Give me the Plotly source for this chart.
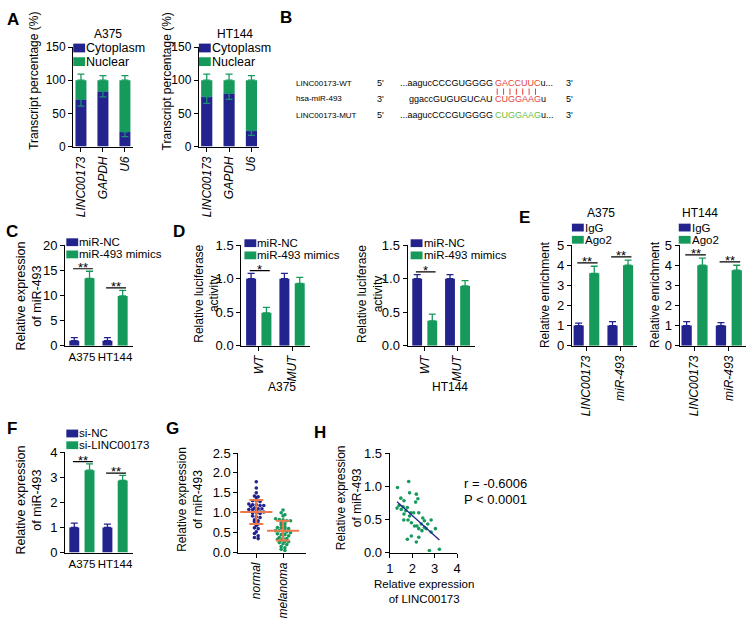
import numpy as np
import plotly.graph_objects as go

W, H = 753, 624
BLUE = "#23238e"
GREEN = "#169a5c"
ORANGE = "#ec7a4f"
RED = "#e5443a"
LGREEN = "#6cbd45"
FONT = "Liberation Sans, Arial, sans-serif"

# ---------------- data ----------------
a_genes = ["LINC00173", "GAPDH", "U6"]
a375_cyto = [71, 83, 22]
a375_cyto_err = [10, 8, 7]
a375_nuc = [29, 17, 78]
a375_nuc_err = [9, 7, 7]
ht144_cyto = [75, 80, 24]
ht144_cyto_err = [10, 9, 7]
ht144_nuc = [25, 20, 76]
ht144_nuc_err = [9, 9, 7]

c_lines = ["A375", "HT144"]
c_nc = [1.0, 1.0]
c_nc_err = [0.6, 0.6]
c_mim = [13.4, 9.9]
c_mim_err = [1.4, 1.1]

d_groups = ["WT", "MUT"]
d_a375_nc = [1.0, 1.0]
d_a375_nc_err = [0.08, 0.08]
d_a375_mim = [0.49, 0.93]
d_a375_mim_err = [0.08, 0.09]
d_ht_nc = [1.0, 1.0]
d_ht_nc_err = [0.06, 0.06]
d_ht_mim = [0.37, 0.89]
d_ht_mim_err = [0.10, 0.08]

e_targets = ["LINC00173", "miR-493"]
e_a375_igg = [1.0, 1.0]
e_a375_igg_err = [0.12, 0.2]
e_a375_ago = [3.6, 4.0]
e_a375_ago_err = [0.35, 0.25]
e_ht_igg = [1.0, 1.0]
e_ht_igg_err = [0.2, 0.15]
e_ht_ago = [4.0, 3.75]
e_ht_ago_err = [0.35, 0.25]

f_lines = ["A375", "HT144"]
f_nc = [1.0, 1.0]
f_nc_err = [0.17, 0.13]
f_si = [3.28, 2.87]
f_si_err = [0.25, 0.2]

g_groups = ["normal", "melanoma"]
g_normal = [1.78, 1.62, 1.50, 1.42, 1.40, 1.38, 1.30, 1.30, 1.28, 1.22, 1.20, 1.20,
            1.18, 1.18, 1.16, 1.12, 1.10, 1.10, 1.08, 1.08, 1.05, 1.02, 1.02, 1.00,
            1.00, 0.98, 0.92, 0.90, 0.88, 0.82, 0.80, 0.78, 0.72, 0.68, 0.62, 0.60,
            0.52, 0.48, 0.42, 0.38, 0.35]
g_melanoma = [1.07, 1.00, 0.95, 0.92, 0.85, 0.83, 0.82, 0.80, 0.80, 0.75, 0.72, 0.70,
              0.65, 0.63, 0.62, 0.60, 0.60, 0.55, 0.55, 0.53, 0.52, 0.50, 0.47, 0.45,
              0.45, 0.42, 0.38, 0.36, 0.35, 0.33, 0.30, 0.28, 0.27, 0.25, 0.22, 0.20,
              0.15, 0.12, 0.08, 0.05]
g_mean = [1.02, 0.55]
g_sd = [0.30, 0.25]

h_linc = [1.34, 1.84, 1.88, 2.18, 1.49, 1.63, 2.25, 2.15, 1.41, 1.59, 1.78, 1.51, 1.71,
          1.93, 1.63, 2.06, 2.29, 1.81, 1.88, 1.62, 2.47, 2.54, 2.84, 2.21, 2.40, 2.29,
          2.54, 2.62, 2.10, 2.69, 3.03, 2.43, 2.84, 1.96, 1.78, 2.29, 2.18, 2.76, 3.21,
          1.32, 1.96]
h_mir = [0.98, 1.07, 0.90, 0.88, 0.82, 0.78, 0.81, 0.76, 0.71, 0.69, 0.68, 0.65, 0.63,
         0.60, 0.58, 0.60, 0.60, 0.49, 0.55, 0.49, 0.52, 0.48, 0.49, 0.40, 0.43, 0.36,
         0.38, 0.36, 0.40, 0.43, 0.36, 0.33, 0.31, 0.25, 0.20, 0.23, 0.16, 0.03, 0.05,
         0.67, 0.45]
h_stats = ["r = -0.6006", "P < 0.0001"]

# ---------------- helpers ----------------
def X(p):
    return p / W

def Y(p):
    return 1 - p / H

traces = []
shapes = []
annotations = []
layout_axes = {}

def ref(n, l):
    return l if n == 1 else f"{l}{n}"

def key(n, l):
    return f"{l}axis" if n == 1 else f"{l}axis{n}"

def add_axes(n, xpx, ypx, xr, yr, dtick, tickvals=None, ticktext=None, tickangle=0,
             xticks="outside", yfmt=None, fs=13, xfs=12, xdtick=None):
    common = dict(showline=True, linecolor="black", linewidth=1.3, showgrid=False,
                  zeroline=False, tickcolor="black", tickwidth=1.3, ticklen=4,
                  fixedrange=True)
    xa = dict(common, domain=[X(xpx[0]), X(xpx[1])], range=xr, anchor=ref(n, "y"),
              ticks=xticks, tickangle=tickangle,
              tickfont=dict(size=xfs, color="black", family=FONT))
    if tickvals is not None:
        xa.update(tickmode="array", tickvals=tickvals, ticktext=ticktext)
    else:
        xa.update(dtick=xdtick, tick0=0)
    ya = dict(common, domain=[Y(ypx[1]), Y(ypx[0])], range=yr, anchor=ref(n, "x"),
              ticks="outside", dtick=dtick, tick0=0,
              tickfont=dict(size=fs, color="black", family=FONT))
    if yfmt:
        ya["tickformat"] = yfmt
    layout_axes[key(n, "x")] = xa
    layout_axes[key(n, "y")] = ya

def bar(n, x, y, err, color, width, offset, base=None, down=False, ecolor=None, cap=3.5):
    e = dict(type="data", symmetric=False, color=ecolor or color, thickness=1.3, width=cap)
    if down:
        e.update(array=[0] * len(err), arrayminus=err)
    else:
        e.update(array=err, arrayminus=[0] * len(err))
    traces.append(go.Bar(x=x, y=y, base=base, width=width, offset=offset,
                         marker=dict(color=color, line=dict(width=0)), error_y=e,
                         xaxis=ref(n, "x"), yaxis=ref(n, "y"), showlegend=False,
                         hoverinfo="skip"))

def text(s, xp, yp, size=12, angle=0, xanchor="center", yanchor="middle", bold=False,
         color="black", align="center"):
    annotations.append(dict(text=f"<b>{s}</b>" if bold else s, x=X(xp), y=Y(yp),
                            xref="paper", yref="paper", showarrow=False,
                            xanchor=xanchor, yanchor=yanchor, textangle=angle,
                            align=align,
                            font=dict(size=size, color=color, family=FONT)))

def legend(x0, y0, items, size=11.5, pitch=12.5, sw=12, sh=8):
    for i, (label, color) in enumerate(items):
        yc = y0 + i * pitch
        shapes.append(dict(type="rect", xref="paper", yref="paper",
                           x0=X(x0), x1=X(x0 + sw), y0=Y(yc + sh / 2), y1=Y(yc - sh / 2),
                           fillcolor=color, line=dict(width=0), layer="above"))
        annotations.append(dict(text=label, x=X(x0 + sw), y=Y(yc), xref="paper",
                                yref="paper", xanchor="left", yanchor="middle",
                                showarrow=False, borderpad=0,
                                font=dict(size=size, color="black", family=FONT)))

def sig(n, xc, top, pad, stars):
    yv = top + pad
    shapes.append(dict(type="line", xref=ref(n, "x"), yref=ref(n, "y"),
                       x0=xc - 0.27, x1=xc + 0.33, y0=yv, y1=yv,
                       line=dict(color="black", width=1.2)))
    annotations.append(dict(text=stars, x=xc + 0.03, y=yv, xref=ref(n, "x"),
                            yref=ref(n, "y"), xanchor="center", yanchor="bottom",
                            yshift=-7, showarrow=False, borderpad=0,
                            font=dict(size=13, color="black", family=FONT)))

def italic(labels):
    return [f"<i>{s}</i>" for s in labels]

W_BAR = 0.3
OFF_L = -0.23 - W_BAR / 2
OFF_R = 0.23 - W_BAR / 2

# ---------------- panel A ----------------
a_idx = list(range(len(a_genes)))
for n, xpx, title, cyto, cerr, nuc, nerr, tx in [
        (1, (70, 130), "A375", a375_cyto, a375_cyto_err, a375_nuc, a375_nuc_err, 105),
        (2, (197, 258), "HT144", ht144_cyto, ht144_cyto_err, ht144_nuc, ht144_nuc_err, 233)]:
    add_axes(n, xpx, (41, 143), [-0.35, 2.35], [0, 150], 50, a_idx, italic(a_genes),
             tickangle=-90, fs=12, xfs=12)
    bar(n, a_idx, nuc, nerr, GREEN, 0.5, -0.25, base=cyto, cap=3.5)
    bar(n, a_idx, cyto, cerr, BLUE, 0.5, -0.25, down=True, ecolor="#1b8f74", cap=3.5)
    text(title, tx, 28, size=12)
    legend(xpx[0], 42, [("Cytoplasm", BLUE), ("Nuclear", GREEN)], size=12.5, pitch=14,
           sw=12, sh=9)
text("Transcript percentage (%)", 30, 76, size=12, angle=-90)
text("Transcript percentage (%)", 165, 76, size=12, angle=-90)

# ---------------- panel B ----------------
rows_y = [78, 94, 111]
row_names = ["LINC00173-WT", "hsa-miR-493", "LINC00173-MUT"]
left_primes = ["5'", "3'", "5'"]
right_primes = ["3'", "5'", "3'"]
seq_prefix = ["...aagucCCCGUGGGG", "ggaccGUGUGUCAU", "...aagucCCCGUGGGG"]
seq_core = ["GACCUUC", "CUGGAAG", "CUGGAAG"]
seq_tail = ["u...", "u", "u..."]
core_colors = [RED, RED, LGREEN]
for i in range(3):
    text(row_names[i], 293, rows_y[i], size=8, xanchor="left")
    text(left_primes[i], 375, rows_y[i], size=9, xanchor="left")
    text(right_primes[i], 566, rows_y[i], size=9, xanchor="left")
    text(seq_prefix[i], 496, rows_y[i], size=9, xanchor="right")
    text(f'<span style="color:{core_colors[i]}">{seq_core[i]}</span>{seq_tail[i]}',
         494, rows_y[i], size=9, xanchor="left")
for k in range(len(seq_core[0])):
    xp = 498.5 + k * 6.45
    shapes.append(dict(type="line", xref="paper", yref="paper", x0=X(xp), x1=X(xp),
                       y0=Y(83.5), y1=Y(90), line=dict(color=RED, width=1)))

# ---------------- panel C ----------------
c_idx = list(range(len(c_lines)))
add_axes(3, (62, 130), (244, 347), [-0.5, 1.53], [0, 20], 5, c_idx, c_lines,
         xticks="", fs=13, xfs=11.5)
bar(3, c_idx, c_nc, c_nc_err, BLUE, W_BAR, OFF_L)
bar(3, c_idx, c_mim, c_mim_err, GREEN, W_BAR, OFF_R)
for i in c_idx:
    sig(3, i, max(c_nc[i] + c_nc_err[i], c_mim[i] + c_mim_err[i]), 0.5, "**")
legend(63, 241, [("miR-NC", BLUE), ("miR-493 mimics", GREEN)])
text("Relative expression<br>of miR-493", 25, 296, size=12.5, angle=-90)

# ---------------- panel D ----------------
d_idx = list(range(len(d_groups)))
for n, xpx, nc, ncerr, mim, mimerr, ttl, tx, ytx in [
        (4, (240, 309), d_a375_nc, d_a375_nc_err, d_a375_mim, d_a375_mim_err, "A375", 281, 205),
        (5, (408, 476), d_ht_nc, d_ht_nc_err, d_ht_mim, d_ht_mim_err, "HT144", 451, 370)]:
    add_axes(n, xpx, (244, 347), [-0.52, 1.53], [0, 1.5], 0.5, d_idx, italic(d_groups),
             tickangle=-90, yfmt=".1f", fs=13, xfs=12)
    bar(n, d_idx, nc, ncerr, BLUE, W_BAR, OFF_L)
    bar(n, d_idx, mim, mimerr, GREEN, W_BAR, OFF_R)
    sig(n, 0, nc[0] + ncerr[0], 0.04, "*")
    legend(xpx[0] + 3, 242, [("miR-NC", BLUE), ("miR-493 mimics", GREEN)])
    text(ttl, tx, 389, size=12)
    text("Relative luciferase<br>activity", ytx, 294, size=12, angle=-90)

# ---------------- panel E ----------------
e_idx = list(range(len(e_targets)))
for n, xpx, igg, iggerr, ago, agoerr, ttl, tx, ytx, lx in [
        (6, (574, 640), e_a375_igg, e_a375_igg_err, e_a375_ago, e_a375_ago_err, "A375", 603, 547, 574),
        (7, (683, 750), e_ht_igg, e_ht_igg_err, e_ht_ago, e_ht_ago_err, "HT144", 703, 658, 682)]:
    add_axes(n, xpx, (244, 347), [-0.43, 1.5], [0, 5], 1, e_idx, italic(e_targets),
             tickangle=-90, fs=13, xfs=12)
    bar(n, e_idx, igg, iggerr, BLUE, W_BAR, OFF_L)
    bar(n, e_idx, ago, agoerr, GREEN, W_BAR, OFF_R)
    for i in e_idx:
        sig(n, i, ago[i] + agoerr[i], 0.17, "**")
    legend(lx, 226, [("IgG", BLUE), ("Ago2", GREEN)])
    text(ttl, tx, 211, size=12)
    text("Relative enrichment", ytx, 295, size=12, angle=-90)

# ---------------- panel F ----------------
f_idx = list(range(len(f_lines)))
add_axes(8, (62, 130), (456, 559), [-0.5, 1.53], [0, 4], 1, f_idx, f_lines,
         xticks="", fs=13, xfs=11.5)
bar(8, f_idx, f_nc, f_nc_err, BLUE, W_BAR, OFF_L)
bar(8, f_idx, f_si, f_si_err, GREEN, W_BAR, OFF_R)
for i in f_idx:
    sig(8, i, f_si[i] + f_si_err[i], 0.09, "**")
legend(63, 437, [("si-NC", BLUE), ("si-LINC00173", GREEN)], pitch=12)
text("Relative expression<br>of miR-493", 25, 505, size=12.5, angle=-90)

# ---------------- panel G ----------------
def swarm(vals, step, dx):
    vals = np.asarray(vals, dtype=float)
    bins = np.round(vals / step).astype(int)
    off = np.zeros(len(vals))
    for b in np.unique(bins):
        idx = np.where(bins == b)[0]
        off[idx] = (np.arange(len(idx)) - (len(idx) - 1) / 2) * dx
    return off

add_axes(9, (237, 305), (457, 559), [-0.667, 1.85], [0, 2.5], 0.5, [0, 1],
         italic(g_groups), tickangle=-90, yfmt=".1f", fs=13, xfs=12)
for gi, (vals, col) in enumerate([(g_normal, BLUE), (g_melanoma, GREEN)]):
    xs = gi + swarm(vals, 0.075, 0.14)
    traces.append(go.Scatter(x=xs, y=vals, mode="markers",
                             marker=dict(size=3.6, color=col, line=dict(width=0)),
                             xaxis="x9", yaxis="y9", showlegend=False, hoverinfo="skip"))
traces.append(go.Scatter(x=[0, 1], y=g_mean, mode="markers",
                         marker=dict(symbol="line-ew", size=23,
                                     line=dict(color=ORANGE, width=2)),
                         error_y=dict(type="data", array=g_sd, color=ORANGE,
                                      thickness=2, width=7),
                         xaxis="x9", yaxis="y9", showlegend=False, hoverinfo="skip"))
text("Relative expression<br>of miR-493", 188, 505, size=12, angle=-90)

# ---------------- panel H ----------------
add_axes(10, (390, 458), (457, 559), [1, 4], [0, 1.5], 0.5, xdtick=1, yfmt=".1f",
         fs=13, xfs=13)
traces.append(go.Scatter(x=h_linc, y=h_mir, mode="markers",
                         marker=dict(size=3.6, color=GREEN, line=dict(width=0)),
                         xaxis="x10", yaxis="y10", showlegend=False, hoverinfo="skip"))
slope, icpt = np.polyfit(h_linc, h_mir, 1)
lx = np.array([min(h_linc), max(h_linc)])
traces.append(go.Scatter(x=lx, y=slope * lx + icpt, mode="lines",
                         line=dict(color=BLUE, width=1.3),
                         xaxis="x10", yaxis="y10", showlegend=False, hoverinfo="skip"))
text(h_stats[0], 463, 488, size=13, xanchor="left")
text(h_stats[1], 463, 505, size=13, xanchor="left")
text("Relative expression<br>of miR-493", 349, 503, size=12, angle=-90)
text("Relative expression<br>of LINC00173", 425, 599, size=11.5)

# ---------------- panel letters ----------------
for lab, xp, yp in [("A", 9, 13), ("B", 285, 11), ("C", 8, 230), ("D", 177, 230),
                    ("E", 526, 216), ("F", 8, 432), ("G", 170, 432), ("H", 319, 436)]:
    text(lab, xp, yp, size=17, bold=True)

fig = go.Figure(data=traces)
fig.update_layout(width=W, height=H, margin=dict(l=0, r=0, t=0, b=0, pad=0),
                  paper_bgcolor="white", plot_bgcolor="white", barmode="overlay",
                  showlegend=False, shapes=shapes, annotations=annotations,
                  font=dict(family=FONT, color="black"), **layout_axes)
fig.write_html("out.html", config={"displayModeBar": False},
               post_script="document.body.style.margin='0';document.body.style.overflow='hidden';")
